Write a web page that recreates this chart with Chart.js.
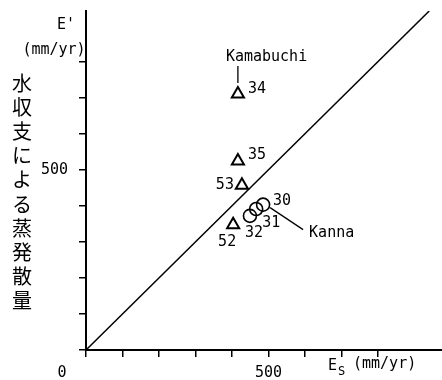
<!DOCTYPE html>
<html>
<head>
<meta charset="utf-8">
<script src="https://cdn.jsdelivr.net/npm/chart.js@4"></script>
<style>
  html, body { margin: 0; padding: 0; background: #fff; }
  #wrap { width: 442px; height: 380px; }
</style>
</head>
<body>
<div id="wrap"><canvas id="c" width="442" height="380"></canvas></div>
<script>
// Annual evapotranspiration: water-balance estimate E' vs. E_s (mm/yr)
const kamabuchiYears = ['34', '35', '53', '52'];
const kamabuchiEs    = [416, 416, 427, 403];
const kamabuchiE     = [710, 524, 457, 347];

const kannaYears = ['30', '31', '32'];
const kannaEs    = [485, 466, 449];
const kannaE     = [403, 391, 372];

// 1:1 reference line end values
const oneToOne = [0, 940];

const xTickLabels = ['500'];
const yTickLabels = ['500'];
const lastTick = 800;

const toPoints = (xs, ys) => xs.map((x, i) => ({ x: x, y: ys[i] }));

const LABEL_FONT = '15px "DejaVu Sans Mono", monospace';
const CJK_FONT = '20px "Noto Sans CJK JP", sans-serif';

// Year label placement next to each marker (pixel offsets from the marker)
const yearLabelOffset = {
  '34': [10, -5, 'left'],
  '35': [10, -6, 'left'],
  '53': [-8, 0, 'right'],
  '52': [-6, 17, 'center'],
  '30': [10, -4, 'left'],
  '31': [6, 14, 'left'],
  '32': [4, 17, 'center']
};

const keepHundreds = s => {
  s.ticks = s.ticks.filter(t => t.value % 100 === 0 && t.value <= lastTick);
};

const annotate = {
  id: 'annotate',
  beforeDraw(chart) {
    const ctx = chart.ctx;
    ctx.save();
    ctx.fillStyle = '#fff';
    ctx.fillRect(0, 0, chart.width, chart.height);
    ctx.restore();
  },
  afterDraw(chart) {
    const ctx = chart.ctx;
    const xs = chart.scales.x;
    ctx.save();
    ctx.fillStyle = '#000';
    ctx.strokeStyle = '#000';
    ctx.textBaseline = 'middle';

    // axis titles
    ctx.font = LABEL_FONT;
    ctx.textAlign = 'center';
    ctx.fillText("E'", 66, 25);
    ctx.fillText('(mm/yr)', 54, 50);
    ctx.fillText('0', xs.getPixelForValue(0) - 24, 373);
    ctx.textAlign = 'left';
    ctx.fillText('E', 328, 366);
    ctx.font = '12px "DejaVu Sans Mono", monospace';
    ctx.fillText('S', 338, 372);
    ctx.font = LABEL_FONT;
    ctx.fillText('(mm/yr)', 353, 364);

    // vertical Japanese axis title
    ctx.font = CJK_FONT;
    ctx.textAlign = 'center';
    const title = '水収支による蒸発散量';
    [...title].forEach((ch, i) => ctx.fillText(ch, 22, 83 + i * 24.2));

    // year labels
    ctx.font = LABEL_FONT;
    const labelSet = (di, years) => {
      const meta = chart.getDatasetMeta(di);
      meta.data.forEach((pt, i) => {
        const o = yearLabelOffset[years[i]];
        ctx.textAlign = o[2];
        ctx.fillText(years[i], pt.x + o[0], pt.y + o[1]);
      });
    };
    labelSet(1, kamabuchiYears);
    labelSet(2, kannaYears);

    // site names with leader lines
    ctx.lineWidth = 1.3;
    const p34 = chart.getDatasetMeta(1).data[0];
    ctx.beginPath();
    ctx.moveTo(p34.x, p34.y - 11);
    ctx.lineTo(p34.x, p34.y - 28);
    ctx.stroke();
    ctx.textAlign = 'left';
    ctx.fillText('Kamabuchi', p34.x - 12, p34.y - 37);

    const p30 = chart.getDatasetMeta(2).data[0];
    ctx.beginPath();
    ctx.moveTo(p30.x + 7, p30.y + 3);
    ctx.lineTo(p30.x + 40, p30.y + 25);
    ctx.stroke();
    ctx.fillText('Kanna', p30.x + 46, p30.y + 28);
    ctx.restore();
  }
};

new Chart(document.getElementById('c'), {
  type: 'scatter',
  data: {
    datasets: [
      {
        type: 'line',
        data: toPoints(oneToOne, oneToOne),
        borderColor: '#000',
        borderWidth: 1.5,
        pointRadius: 0,
        fill: false
      },
      {
        data: toPoints(kamabuchiEs, kamabuchiE),
        pointStyle: 'triangle',
        pointRadius: 7,
        backgroundColor: '#fff',
        borderColor: '#000',
        borderWidth: 2
      },
      {
        data: toPoints(kannaEs, kannaE),
        pointStyle: 'circle',
        pointRadius: 6.5,
        backgroundColor: 'rgba(255,255,255,0)',
        borderColor: '#000',
        borderWidth: 1.6
      }
    ]
  },
  options: {
    responsive: false,
    animation: false,
    devicePixelRatio: 1,
    layout: { padding: 0, autoPadding: false },
    plugins: { legend: { display: false }, tooltip: { enabled: false } },
    scales: {
      x: {
        type: 'linear',
        min: 0,
        max: 975,
        afterFit: s => { s.height = 30; s.paddingLeft = 0; s.paddingRight = 0; },
        afterBuildTicks: keepHundreds,
        border: { display: true, color: '#000', width: 2 },
        grid: { display: true, drawOnChartArea: false, drawTicks: true, tickLength: 7, color: '#000', lineWidth: 1.5 },
        ticks: {
          stepSize: 100,
          includeBounds: false,
          autoSkip: false,
          maxRotation: 0,
          padding: 7,
          color: '#000',
          font: { family: '"DejaVu Sans Mono", monospace', size: 15 },
          callback: v => xTickLabels.includes(String(v)) ? String(v) : ''
        }
      },
      y: {
        type: 'linear',
        min: 0,
        max: 940,
        afterFit: s => { s.width = 86; s.paddingTop = 11; s.paddingBottom = 0; },
        afterBuildTicks: keepHundreds,
        border: { display: true, color: '#000', width: 2 },
        grid: { display: true, drawOnChartArea: false, drawTicks: true, tickLength: 7, color: '#000', lineWidth: 1.5 },
        ticks: {
          stepSize: 100,
          includeBounds: false,
          autoSkip: false,
          padding: 11,
          color: '#000',
          font: { family: '"DejaVu Sans Mono", monospace', size: 15 },
          callback: v => yTickLabels.includes(String(v)) ? String(v) : ''
        }
      }
    }
  },
  plugins: [annotate]
});
</script>
</body>
</html>
